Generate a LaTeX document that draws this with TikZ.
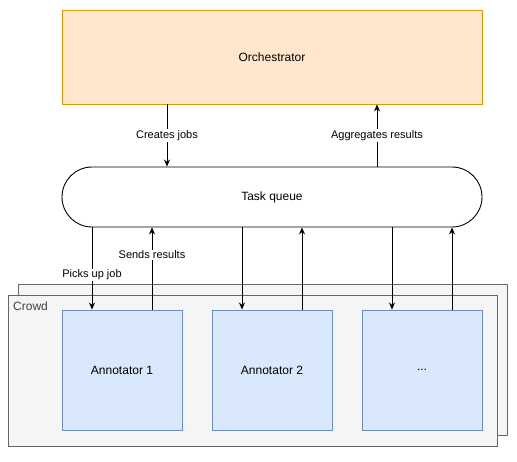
\documentclass[tikz,border=0pt]{standalone}
\usepackage{fontspec}
\setmainfont{Liberation Sans}
\usetikzlibrary{arrows.meta,calc}
\begin{document}
\begin{tikzpicture}[x=1pt,y=-1pt,
  box/.style={draw, line width=0.9pt, minimum width=#1, inner sep=0pt, font=\fontsize{12}{14}\selectfont},
  orch/.style={box=420pt, minimum height=94pt, fill=orfill, draw=ordraw},
  queue/.style={box=420pt, minimum height=60pt, rounded corners=30pt, fill=white, draw=black},
  ann/.style={box=120pt, minimum height=120pt, fill=anfill, draw=andraw},
  crowd/.style={draw=crdraw, fill=crfill, line width=0.9pt},
  arr/.style={-{Stealth[length=7pt,width=6pt]}, line width=0.8pt},
  lbl/.style={fill=white, inner sep=1pt, font=\fontsize{11}{13}\selectfont}
]
\definecolor{orfill}{HTML}{FFE6CC}
\definecolor{ordraw}{HTML}{D79B00}
\definecolor{anfill}{HTML}{DAE8FC}
\definecolor{andraw}{HTML}{6C8EBF}
\definecolor{crfill}{HTML}{F5F5F5}
\definecolor{crdraw}{HTML}{666666}
\useasboundingbox (0,0) rectangle (517,461);

\draw[crowd] (18,284) rectangle (507,435);
\draw[crowd] (8,295) rectangle (497,446);
\node[anchor=north west, inner sep=0pt, font=\fontsize{12}{14}\selectfont, text=black!75] (crowdlbl) at (13,302) {Crowd};

\node[orch] (orch) at (272,57) {Orchestrator};
\node[queue] (tq) at (272,197) {Task queue};
\node[ann] (a1) at (122,370) {Annotator 1};
\node[ann] (a2) at (272,370) {Annotator 2};
\node[ann] (a3) at (422,370) {...};

\coordinate (c1) at (167,0);
\coordinate (c2) at (377,0);
\draw[arr] (orch.south -| c1) -- node[lbl, pos=0.5] {Creates jobs} (tq.north -| c1);
\draw[arr] (tq.north -| c2) -- node[lbl, pos=0.5] {Aggregates results} (orch.south -| c2);

\coordinate (d1) at (92,0);
\coordinate (u1) at (152,0);
\coordinate (d2) at (242,0);
\coordinate (u2) at (302,0);
\coordinate (d3) at (392,0);
\coordinate (u3) at (452,0);
\draw[arr] (tq.south -| d1) -- (a1.north -| d1);
\draw[arr] (a1.north -| u1) -- (tq.south -| u1);
\draw[arr] (tq.south -| d2) -- (a2.north -| d2);
\draw[arr] (a2.north -| u2) -- (tq.south -| u2);
\draw[arr] (tq.south -| d3) -- (a3.north -| d3);
\draw[arr] (a3.north -| u3) -- (tq.south -| u3);
\node[lbl] (pick) at (92,275) {Picks up job};
\node[lbl] (send) at (152,255) {Sends results};
\end{tikzpicture}
\end{document}
